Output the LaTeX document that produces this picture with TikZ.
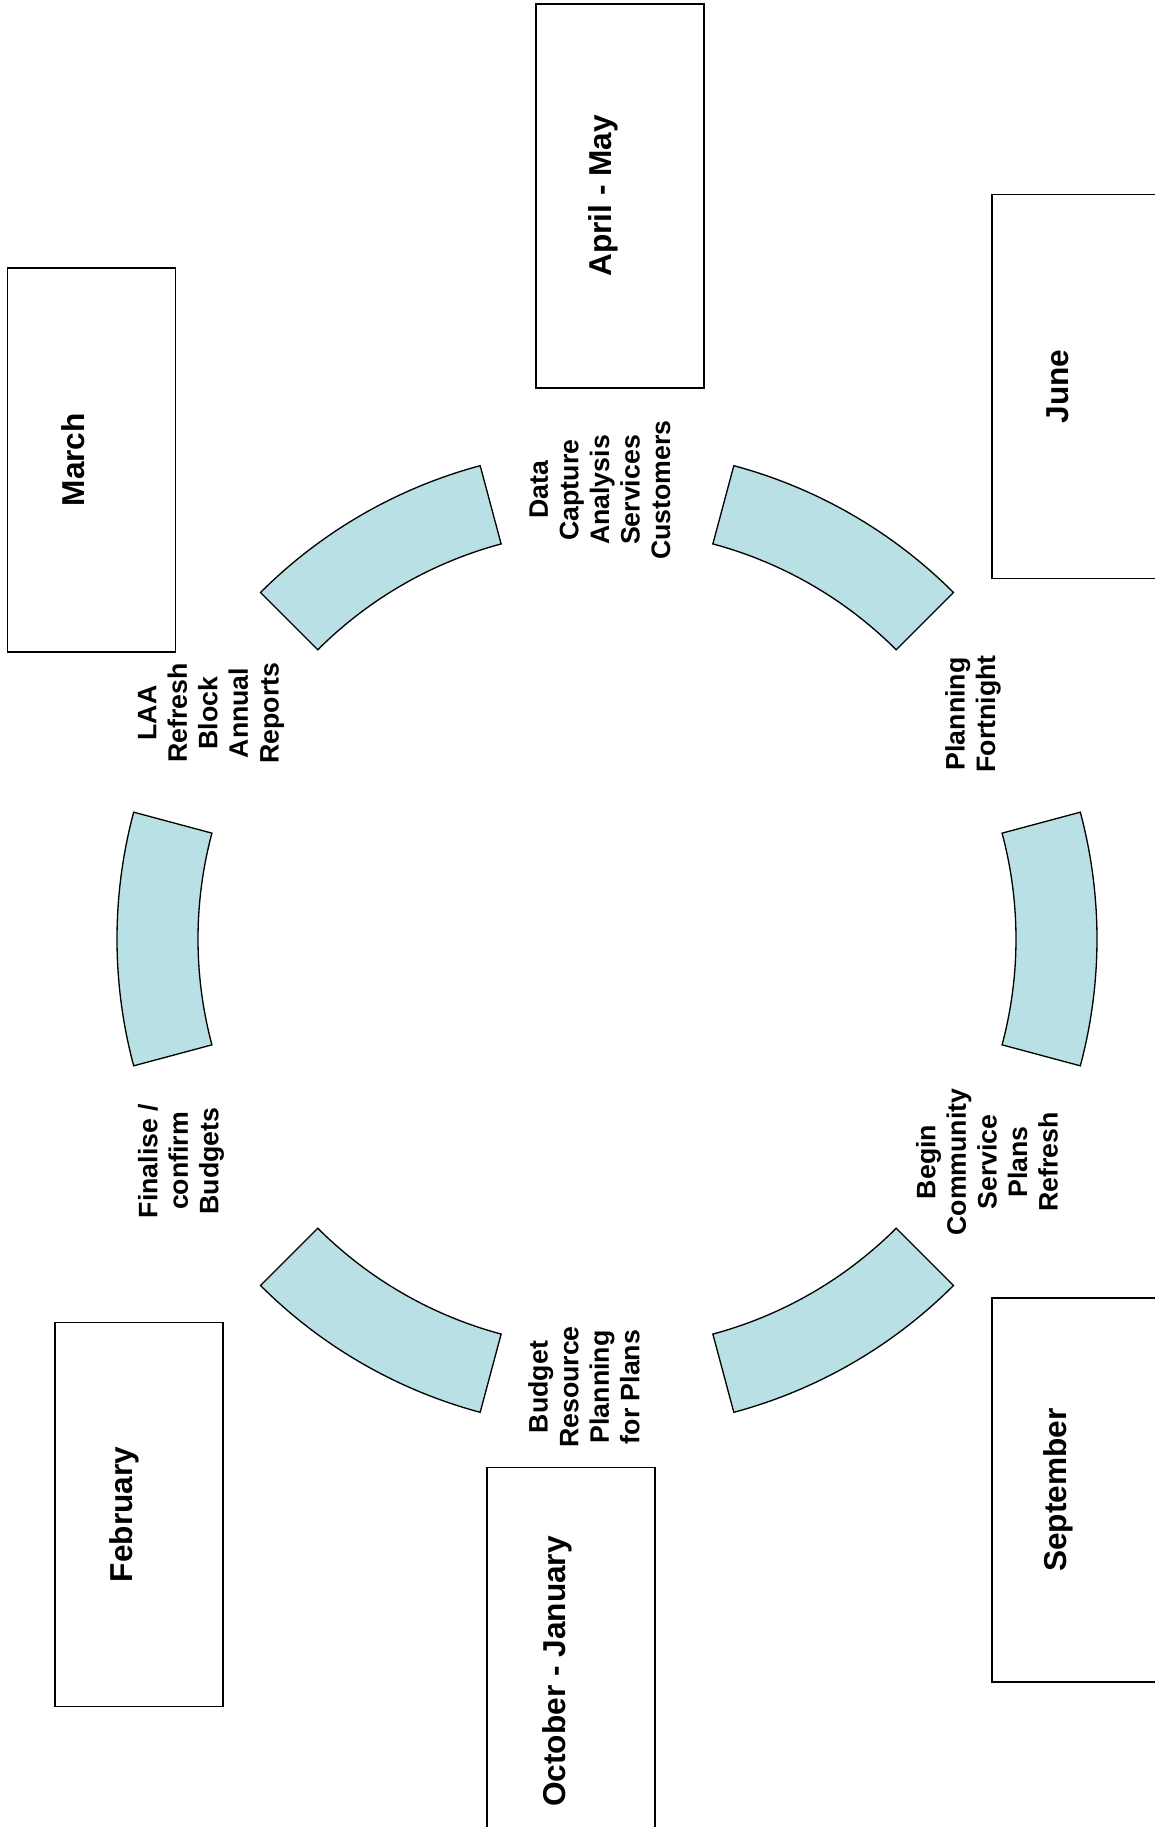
\documentclass[tikz,border=0pt]{standalone}
\usepackage{fontspec}
\setmainfont{Liberation Sans}
\definecolor{segblue}{RGB}{185,224,228}

\begin{document}
\begin{tikzpicture}[
    seg/.style={draw=black,line width=0.75pt,fill=segblue},
    monthbox/.style={draw=black,line width=0.95pt,minimum width=3.36cm,minimum height=7.68cm,inner sep=0pt},
    monthtext/.style={rotate=90,font=\bfseries\fontsize{18}{21.6}\selectfont},
    steptext/.style={rotate=90,align=center,font=\bfseries\fontsize{15.2}{17.4}\selectfont}
]
    \useasboundingbox (-12.14,-17.76) rectangle (10.96,18.78);

    % Ring of six blocks
    \draw[seg] (-15:8.18) arc (-15:15:8.18) -- (15:9.8) arc (15:-15:9.8) -- cycle;
    \draw[seg] (45:8.18) arc (45:75:8.18) -- (75:9.8) arc (75:45:9.8) -- cycle;
    \draw[seg] (105:8.18) arc (105:135:8.18) -- (135:9.8) arc (135:105:9.8) -- cycle;
    \draw[seg] (165:8.18) arc (165:195:8.18) -- (195:9.8) arc (195:165:9.8) -- cycle;
    \draw[seg] (225:8.18) arc (225:255:8.18) -- (255:9.8) arc (255:225:9.8) -- cycle;
    \draw[seg] (285:8.18) arc (285:315:8.18) -- (315:9.8) arc (315:285:9.8) -- cycle;

    % Steps in the gaps
    \node[steptext] (data) at (-0.14,8.98) {Data\\Capture\\Analysis\\Services\\Customers};
    \node[steptext] (fortnight) at (7.32,4.50) {Planning\\Fortnight};
    \node[steptext] (refresh) at (7.60,-4.46) {Begin\\Community\\Service\\Plans\\Refresh};
    \node[steptext] (resource) at (-0.46,-8.96) {Budget\\Resource\\Planning\\for Plans};
    \node[steptext] (finalise) at (-8.52,-4.44) {Finalise /\\confirm\\Budgets};
    \node[steptext] (laa) at (-7.92,4.52) {LAA\\Refresh\\Block\\Annual\\Reports};

    % Month boxes
    \node[monthbox] (aprbox) at (0.26,14.865) {};
    \node[monthtext] (aprtxt) at ([xshift=-0.34cm]aprbox.center) {April - May};

    \node[monthbox] (junbox) at (9.375,11.05) {};
    \node[monthtext] (juntxt) at ([xshift=-0.36cm]junbox.center) {June};

    \node[monthbox] (sepbox) at (9.375,-11.02) {};
    \node[monthtext] (septxt) at ([xshift=-0.34cm]sepbox.center) {September};

    \node[monthbox,minimum height=8.16cm] (octbox) at (-0.718,-14.65) {};
    \node[monthtext] (octtxt) at ([xshift=-0.28cm]octbox.center) {October - January};

    \node[monthbox] (febbox) at (-9.355,-11.51) {};
    \node[monthtext] (febtxt) at ([xshift=-0.29cm]febbox.center) {February};

    \node[monthbox] (marbox) at (-10.31,9.585) {};
    \node[monthtext] (martxt) at ([xshift=-0.36cm]marbox.center) {March};
\end{tikzpicture}
\end{document}
